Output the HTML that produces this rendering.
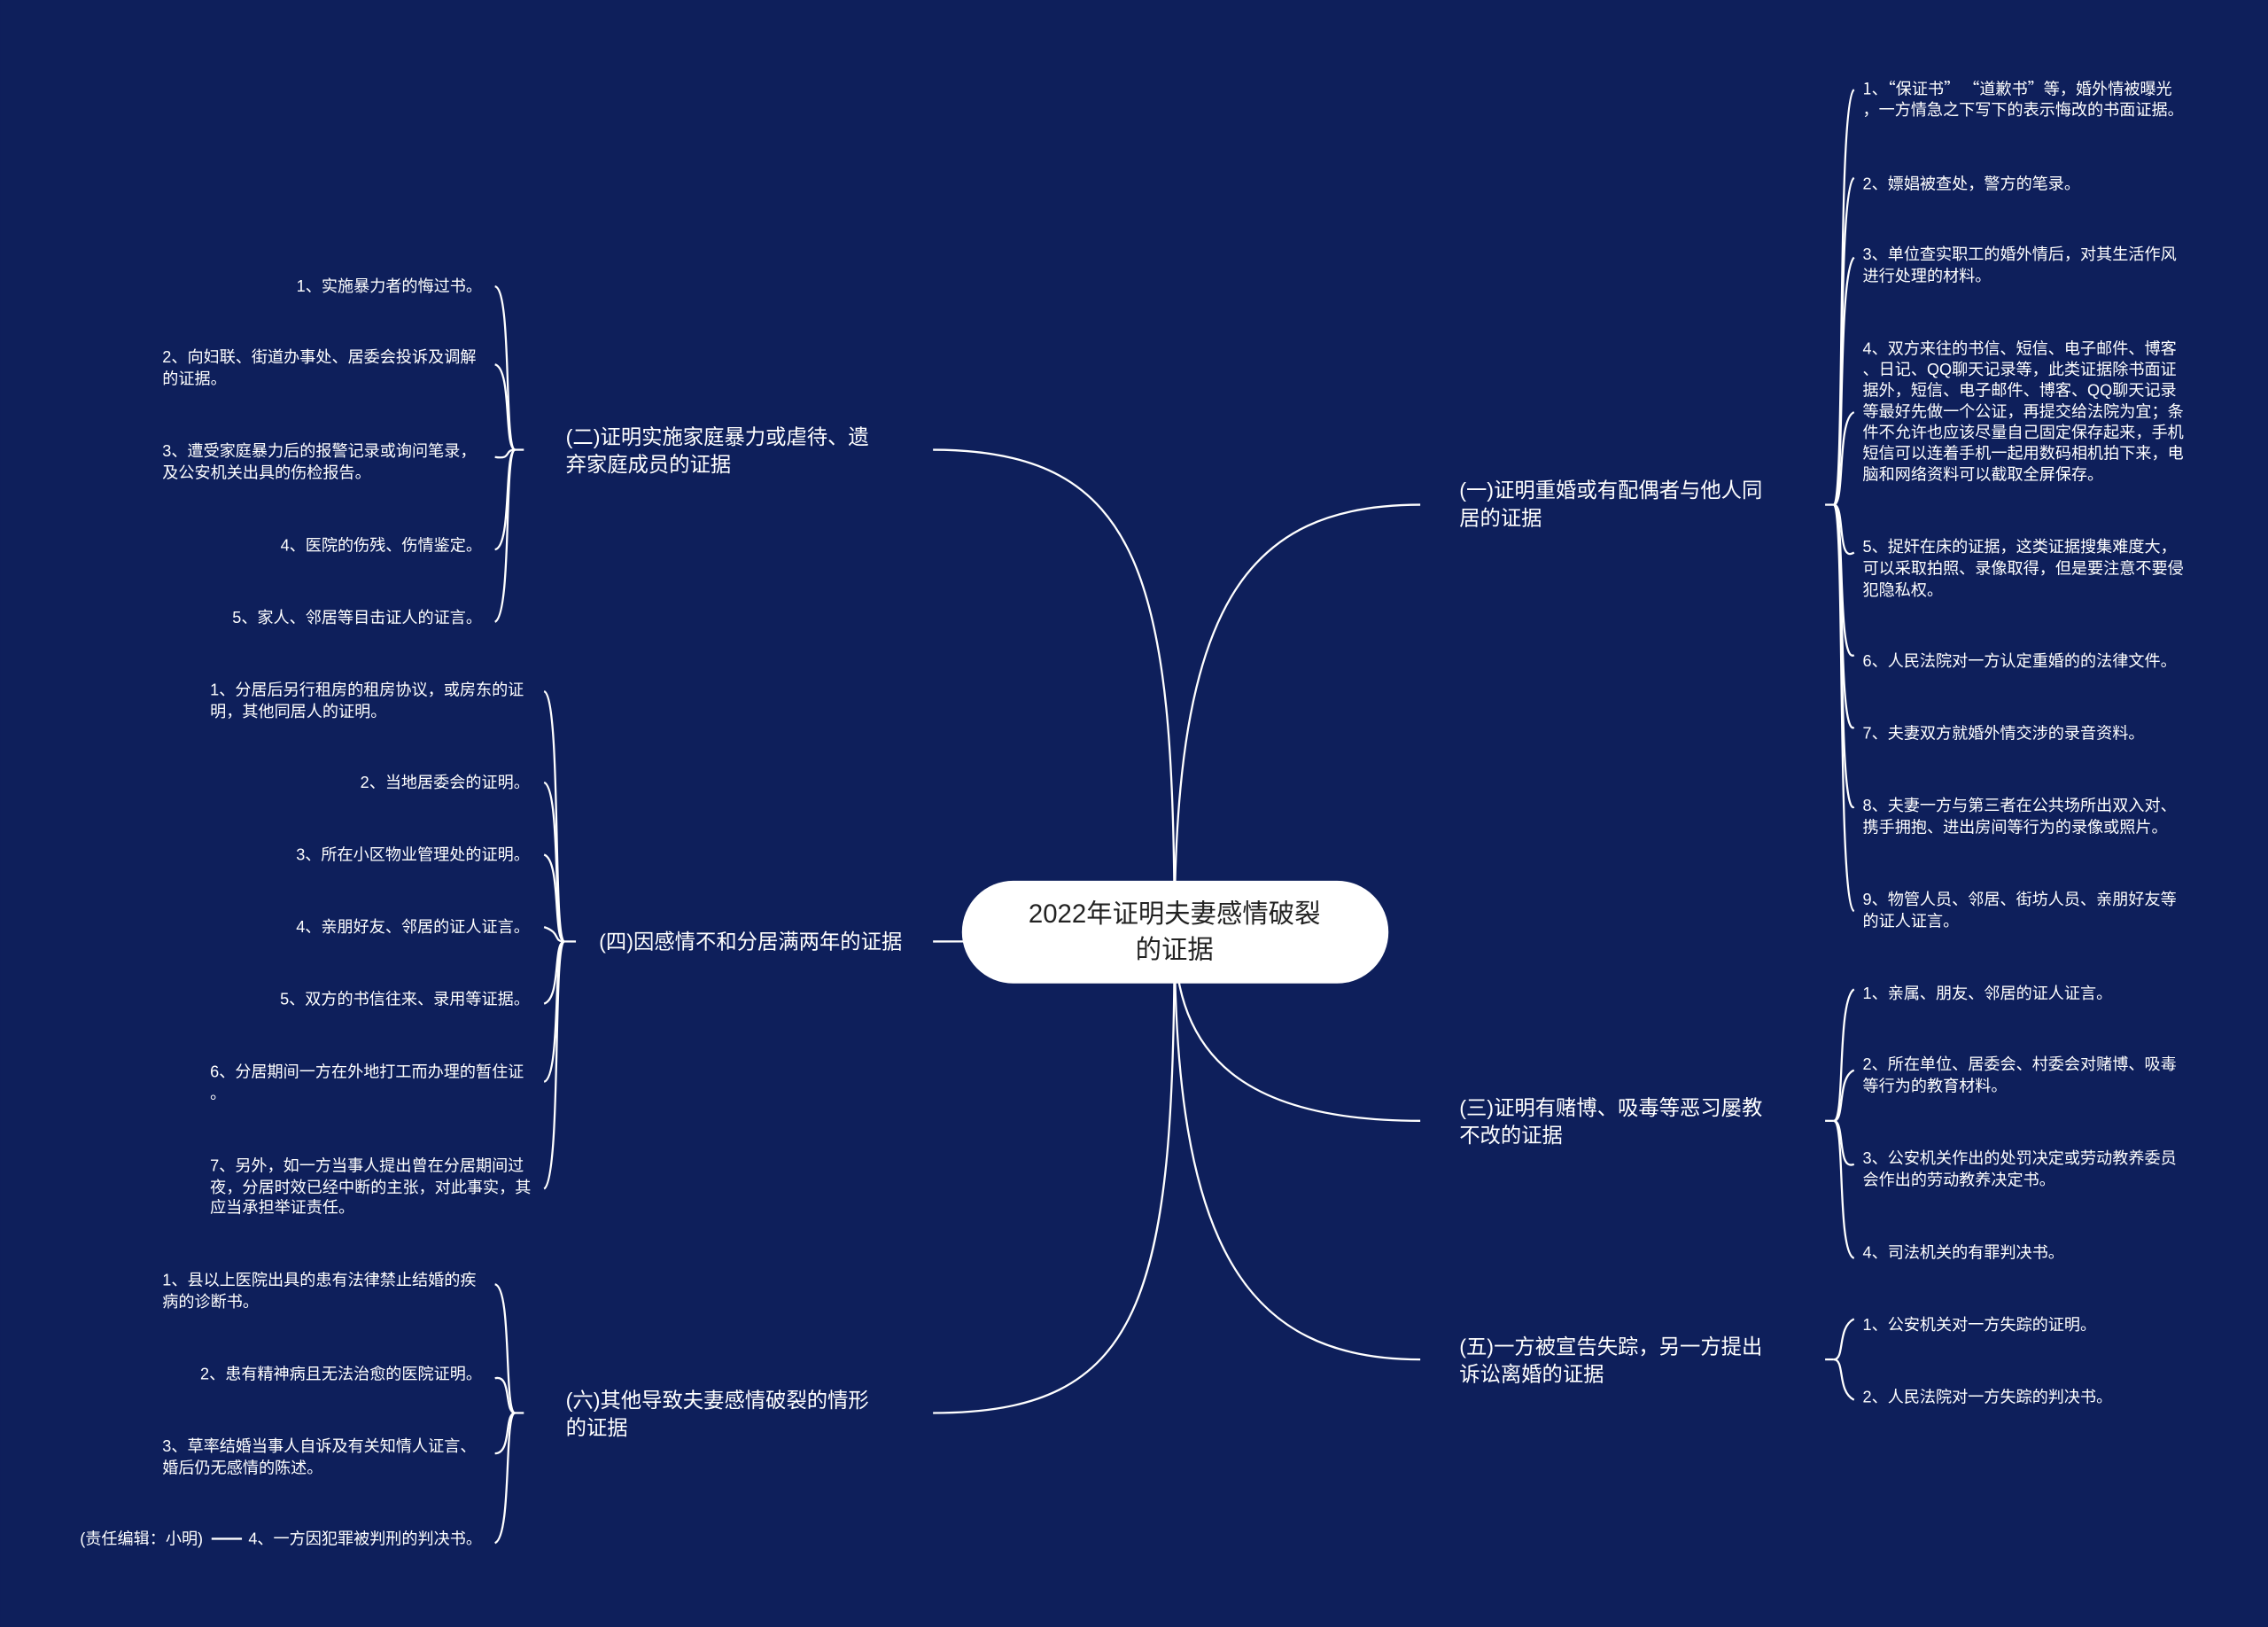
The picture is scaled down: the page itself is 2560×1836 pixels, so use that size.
<!DOCTYPE html>
<html><head><meta charset="utf-8"><style>
html,body{margin:0;padding:0;background:#0e1f5b;}
svg{display:block}
text{font-family:"Liberation Sans","Noto Sans CJK SC",sans-serif;fill:#fff;dominant-baseline:central}
.l{font-size:11.1px}
.b{font-size:14.3px}
.q{font-family:"Noto Sans CJK SC",sans-serif}
</style></head><body>
<svg width="2560" height="1836" viewBox="0 0 1568 1125" xmlns="http://www.w3.org/2000/svg">
<rect width="1568" height="1125" fill="#0e1f5b"/>
<g fill="none" stroke="#fff" stroke-width="1.4">
<path d="M812 645 C812 420 860 349 982 349"/>
<path d="M812 645 C812 730 860 775 982 775"/>
<path d="M812 645 C812 860 860 940 982 940"/>
<path d="M812 645 C812 400 790 311 645 311"/>
<path d="M812 645 C760 651 700 651 645 651"/>
<path d="M812 645 C812 900 790 977 645 977"/>
<path d="M1262 349 H1268"/>
<path d="M1268 349 C1276 349 1270 70 1282 62"/>
<path d="M1268 349 C1276 349 1270 130 1282 123"/>
<path d="M1268 349 C1276 349 1270 190 1282 178"/>
<path d="M1268 349 C1276 349 1270 290 1282 285"/>
<path d="M1268 349 C1276 349 1270 390 1282 382"/>
<path d="M1268 349 C1276 349 1270 460 1282 453"/>
<path d="M1268 349 C1276 349 1270 510 1282 503"/>
<path d="M1268 349 C1276 349 1270 565 1282 558"/>
<path d="M1268 349 C1276 349 1270 625 1282 630"/>
<path d="M1262 775 H1268"/>
<path d="M1268 775 C1276 775 1270 692 1282 684"/>
<path d="M1268 775 C1276 775 1270 745 1282 740"/>
<path d="M1268 775 C1276 775 1270 810 1282 805"/>
<path d="M1268 775 C1276 775 1270 866 1282 870"/>
<path d="M1262 940 H1268"/>
<path d="M1268 940 C1276 940 1270 918 1282 912"/>
<path d="M1268 940 C1276 940 1270 962 1282 968"/>
<path d="M362 311 H356"/>
<path d="M356 311 C348 311 354 200 342 198"/>
<path d="M356 311 C348 311 354 255 342 252"/>
<path d="M356 311 C348 311 354 318 342 316"/>
<path d="M356 311 C348 311 354 378 342 380"/>
<path d="M356 311 C348 311 354 425 342 430"/>
<path d="M398 651 H390"/>
<path d="M390 651 C382 651 388 482 376 478"/>
<path d="M390 651 C382 651 388 545 376 541"/>
<path d="M390 651 C382 651 388 595 376 591"/>
<path d="M390 651 C382 651 388 645 376 641"/>
<path d="M390 651 C382 651 388 690 376 694"/>
<path d="M390 651 C382 651 388 745 376 748"/>
<path d="M390 651 C382 651 388 815 376 822"/>
<path d="M362 977 H356"/>
<path d="M356 977 C348 977 354 890 342 888"/>
<path d="M356 977 C348 977 354 950 342 953"/>
<path d="M356 977 C348 977 354 1005 342 1005"/>
<path d="M356 977 C348 977 354 1062 342 1067"/>
<path d="M146 1064 H167"/>
</g>
<rect x="665" y="609" width="295" height="71" rx="35.5" fill="#fff"/>
<text x="812" y="632" text-anchor="middle" style="font-size:18px;fill:#222">2022年证明夫妻感情破裂</text>
<text x="812" y="657" text-anchor="middle" style="font-size:18px;fill:#222">的证据</text>
<g class="b">
<text x="1009" y="339">(一)证明重婚或有配偶者与他人同</text><text x="1009" y="358">居的证据</text>
<text x="1009" y="766">(三)证明有赌博、吸毒等恶习屡教</text><text x="1009" y="785">不改的证据</text>
<text x="1009" y="931">(五)一方被宣告失踪，另一方提出</text><text x="1009" y="950">诉讼离婚的证据</text>
<text x="391" y="302">(二)证明实施家庭暴力或虐待、遗</text><text x="391" y="321">弃家庭成员的证据</text>
<text x="414" y="651">(四)因感情不和分居满两年的证据</text>
<text x="391" y="968">(六)其他导致夫妻感情破裂的情形</text><text x="391" y="987">的证据</text>
</g>
<g class="l">
<text x="1288" y="61" class="q">1、“保证书” “道歉书”等，婚外情被曝光</text><text x="1288" y="76">，一方情急之下写下的表示悔改的书面证据。</text>
<text x="1288" y="127">2、嫖娼被查处，警方的笔录。</text>
<text x="1288" y="176">3、单位查实职工的婚外情后，对其生活作风</text><text x="1288" y="191">进行处理的材料。</text>
<text x="1288" y="241">4、双方来往的书信、短信、电子邮件、博客</text>
<text x="1288" y="255.5">、日记、QQ聊天记录等，此类证据除书面证</text>
<text x="1288" y="270">据外，短信、电子邮件、博客、QQ聊天记录</text>
<text x="1288" y="284.5">等最好先做一个公证，再提交给法院为宜；条</text>
<text x="1288" y="299">件不允许也应该尽量自己固定保存起来，手机</text>
<text x="1288" y="313.5">短信可以连着手机一起用数码相机拍下来，电</text>
<text x="1288" y="328">脑和网络资料可以截取全屏保存。</text>
<text x="1288" y="378">5、捉奸在床的证据，这类证据搜集难度大，</text><text x="1288" y="393">可以采取拍照、录像取得，但是要注意不要侵</text><text x="1288" y="408">犯隐私权。</text>
<text x="1288" y="457">6、人民法院对一方认定重婚的的法律文件。</text>
<text x="1288" y="507">7、夫妻双方就婚外情交涉的录音资料。</text>
<text x="1288" y="557">8、夫妻一方与第三者在公共场所出双入对、</text><text x="1288" y="572">携手拥抱、进出房间等行为的录像或照片。</text>
<text x="1288" y="622">9、物管人员、邻居、街坊人员、亲朋好友等</text><text x="1288" y="637">的证人证言。</text>
<text x="1288" y="687">1、亲属、朋友、邻居的证人证言。</text>
<text x="1288" y="736">2、所在单位、居委会、村委会对赌博、吸毒</text><text x="1288" y="751">等行为的教育材料。</text>
<text x="1288" y="801">3、公安机关作出的处罚决定或劳动教养委员</text><text x="1288" y="816">会作出的劳动教养决定书。</text>
<text x="1288" y="866">4、司法机关的有罪判决书。</text>
<text x="1288" y="916">1、公安机关对一方失踪的证明。</text>
<text x="1288" y="966">2、人民法院对一方失踪的判决书。</text>

<text x="333" y="198" text-anchor="end">1、实施暴力者的悔过书。</text>
<text x="112" y="247">2、向妇联、街道办事处、居委会投诉及调解</text><text x="112" y="262">的证据。</text>
<text x="112" y="312">3、遭受家庭暴力后的报警记录或询问笔录，</text><text x="112" y="327">及公安机关出具的伤检报告。</text>
<text x="333" y="377" text-anchor="end">4、医院的伤残、伤情鉴定。</text>
<text x="333" y="427" text-anchor="end">5、家人、邻居等目击证人的证言。</text>

<text x="145" y="477">1、分居后另行租房的租房协议，或房东的证</text><text x="145" y="492">明，其他同居人的证明。</text>
<text x="366" y="541" text-anchor="end">2、当地居委会的证明。</text>
<text x="366" y="591" text-anchor="end">3、所在小区物业管理处的证明。</text>
<text x="366" y="641" text-anchor="end">4、亲朋好友、邻居的证人证言。</text>
<text x="366" y="691" text-anchor="end">5、双方的书信往来、录用等证据。</text>
<text x="145" y="741">6、分居期间一方在外地打工而办理的暂住证</text><text x="145" y="756">。</text>
<text x="145" y="806">7、另外，如一方当事人提出曾在分居期间过</text><text x="145" y="821">夜，分居时效已经中断的主张，对此事实，其</text><text x="145" y="835">应当承担举证责任。</text>

<text x="112" y="885">1、县以上医院出具的患有法律禁止结婚的疾</text><text x="112" y="900">病的诊断书。</text>
<text x="333" y="950" text-anchor="end">2、患有精神病且无法治愈的医院证明。</text>
<text x="112" y="1000">3、草率结婚当事人自诉及有关知情人证言、</text><text x="112" y="1015">婚后仍无感情的陈述。</text>
<text x="333" y="1064" text-anchor="end">4、一方因犯罪被判刑的判决书。</text>
<text x="55" y="1064">(责任编辑：小明)</text>
</g>
</svg>
</body></html>
